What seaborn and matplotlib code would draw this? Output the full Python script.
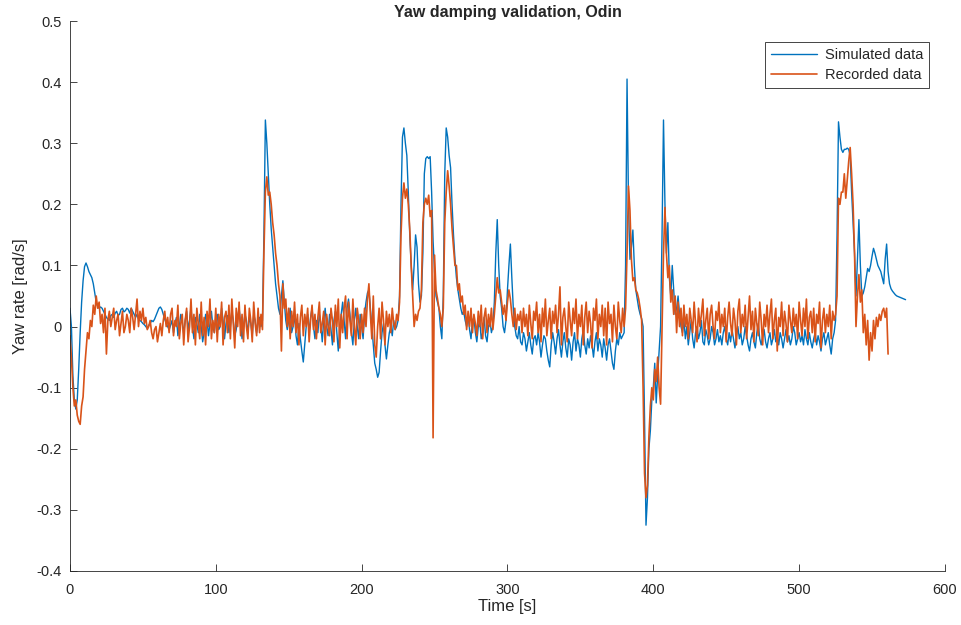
import numpy as np
import pandas as pd
import matplotlib
matplotlib.use("Agg")
import matplotlib.pyplot as plt
import seaborn as sns

# simulated yaw rate, one value per second (t = 0..573 s)
sim_rate = [
    0.03, 0.0, -0.08, -0.12, -0.135, -0.12, -0.07, -0.01, 0.04, 0.075,
    0.098, 0.104, 0.098, 0.09, 0.085, 0.08, 0.07, 0.055, 0.04, 0.033,
    0.03, 0.032, 0.03, 0.025, 0.02, 0.015, 0.012, 0.01, 0.018, 0.02,
    0.015, 0.022, 0.025, 0.018, 0.02, 0.028, 0.03, 0.024, 0.026, 0.03,
    0.028, 0.022, 0.03, 0.025, 0.02, 0.015, 0.02, 0.012, 0.01, 0.008,
    0.005, 0.003, 0.0, -0.003, 0.002, 0.005, 0.01, 0.008, 0.012, 0.018,
    0.024, 0.03, 0.032, 0.028, 0.02, 0.012, 0.005, 0.0, -0.005, 0.002,
    0.01, -0.01, 0.005, 0.015, -0.015, 0.0, 0.02, 0.008, -0.012, 0.01,
    0.025, -0.005, 0.01, 0.03, 0.0, -0.02, 0.015, 0.005, -0.01, 0.02,
    0.0, -0.025, -0.01, 0.02, 0.01, -0.015, 0.005, 0.025, 0.0, -0.01,
    0.015, 0.02, -0.005, 0.0, 0.03, 0.01, -0.02, 0.005, 0.018, -0.01,
    0.0, 0.025, 0.01, -0.015, -0.005, 0.015, 0.03, 0.005, -0.02, 0.0,
    0.02, 0.01, -0.01, 0.015, 0.005, -0.015, 0.02, 0.01, -0.01, 0.005,
    0.015, 0.0, 0.01, 0.15, 0.338, 0.3, 0.25, 0.2, 0.16, 0.13,
    0.1, 0.07, 0.05, 0.03, 0.02, 0.05, 0.075, 0.04, 0.01, -0.005,
    0.01, 0.03, -0.01, 0.0, 0.02, -0.015, -0.03, 0.005, -0.02, -0.04,
    -0.058, -0.03, 0.0, 0.02, -0.01, 0.015, 0.03, 0.0, -0.02, 0.01,
    -0.01, 0.02, 0.005, -0.025, 0.01, 0.03, 0.0, -0.015, 0.02, -0.005,
    -0.03, 0.01, 0.025, -0.01, -0.04, 0.0, 0.02, 0.04, 0.01, -0.02,
    0.03, 0.045, 0.02, -0.01, -0.03, 0.01, 0.03, 0.0, -0.02, 0.02,
    0.0, -0.02, 0.02, 0.04, 0.055, 0.06, 0.03, 0.0, -0.03, -0.06,
    -0.07, -0.083, -0.075, -0.04, -0.01, 0.005, -0.03, -0.053, -0.03, -0.01,
    0.0, -0.015, 0.01, -0.005, 0.0, 0.01, 0.05, 0.2, 0.31, 0.325,
    0.3, 0.28, 0.22, 0.15, 0.1, 0.06, 0.1, 0.15, 0.13, 0.07,
    0.04, 0.05, 0.12, 0.25, 0.275, 0.278, 0.275, 0.278, 0.22, 0.14,
    0.09, 0.05, 0.04, 0.03, 0.0, -0.02, 0.05, 0.25, 0.325, 0.31,
    0.28, 0.26, 0.2, 0.15, 0.11, 0.08, 0.06, 0.045, 0.03, 0.02,
    0.025, 0.01, 0.0, 0.02, -0.005, -0.02, 0.01, 0.015, -0.01, -0.025,
    0.0, 0.01, -0.02, -0.01, 0.015, -0.015, -0.025, 0.0, 0.01, -0.01,
    0.0, 0.04, 0.12, 0.175, 0.1, 0.05, 0.03, 0.0, -0.01, 0.01,
    0.06, 0.1, 0.135, 0.08, 0.03, 0.0, -0.015, -0.02, 0.0, -0.025,
    -0.03, -0.01, -0.02, -0.04, -0.025, -0.01, -0.03, -0.045, -0.02, -0.015,
    -0.03, -0.01, -0.025, -0.05, -0.03, -0.015, -0.02, -0.04, -0.055, -0.066,
    -0.03, -0.01, -0.025, -0.045, -0.02, -0.005, -0.03, -0.05, -0.025, -0.01,
    -0.035, -0.05, -0.02, -0.03, -0.055, -0.025, -0.01, -0.04, -0.02, -0.03,
    -0.05, -0.02, -0.005, -0.03, -0.045, -0.02, -0.035, -0.015, -0.03, -0.05,
    -0.025, -0.01, -0.04, -0.02, -0.03, -0.05, -0.02, -0.035, -0.055, -0.03,
    -0.02, -0.04, -0.06, -0.07, -0.04, -0.02, -0.03, -0.01, -0.02, -0.015,
    -0.01, 0.1, 0.405, 0.2, 0.11, 0.13, 0.158, 0.1, 0.06, 0.045,
    0.03, 0.02, 0.013, 0.0, -0.15, -0.325, -0.28, -0.2, -0.17, -0.12,
    -0.1, -0.06, -0.125, -0.08, -0.04, 0.0, 0.15, 0.338, 0.2, 0.12,
    0.17, 0.08, 0.05, 0.1, 0.06, 0.02, 0.03, 0.05, 0.02, 0.0,
    -0.01, 0.01, -0.02, 0.0, -0.03, -0.01, 0.01, -0.02, -0.035, -0.01,
    0.0, -0.02, -0.01, 0.01, -0.025, -0.03, -0.005, -0.015, -0.03, -0.02,
    0.0, -0.01, -0.03, -0.02, -0.005, -0.025, -0.015, -0.03, -0.01, 0.0,
    -0.02, -0.03, -0.01, -0.025, -0.005, -0.02, -0.035, -0.015, 0.0, -0.02,
    -0.01, -0.03, -0.02, 0.0, -0.015, -0.03, -0.04, -0.02, -0.01, -0.025,
    -0.035, -0.01, 0.005, -0.02, -0.03, -0.015, -0.005, -0.025, -0.035, -0.02,
    -0.01, -0.03, -0.02, -0.005, -0.025, -0.015, -0.03, -0.01, -0.02, -0.035,
    -0.02, -0.005, -0.025, -0.015, -0.03, -0.02, 0.0, -0.01, -0.03, -0.02,
    -0.01, -0.025, -0.015, -0.03, -0.005, -0.02, -0.03, -0.01, -0.025, -0.035,
    -0.02, -0.01, -0.03, -0.015, -0.025, -0.04, -0.02, -0.01, -0.03, -0.02,
    -0.01, -0.03, -0.045, -0.02, -0.01, 0.01, 0.15, 0.335, 0.31, 0.29,
    0.285, 0.29, 0.29, 0.292, 0.29, 0.28, 0.22, 0.17, 0.12, 0.05,
    0.11, 0.175, 0.1, 0.05, 0.055, 0.065, 0.08, 0.095, 0.09, 0.1,
    0.115, 0.128, 0.12, 0.11, 0.1, 0.095, 0.09, 0.08, 0.07, 0.11,
    0.135, 0.09, 0.07, 0.062, 0.058, 0.055, 0.052, 0.05, 0.049, 0.048,
    0.047, 0.046, 0.045, 0.044,
]

# recorded yaw rate, one value per second (t = 0..561 s)
rec_rate = [
    -0.015, -0.05, -0.1, -0.13, -0.12, -0.145, -0.155, -0.16, -0.13, -0.115,
    -0.07, -0.04, -0.01, -0.02, 0.01, 0.0, 0.035, 0.02, 0.05, 0.03,
    0.04, 0.005, 0.02, -0.01, 0.03, -0.045, 0.01, 0.025, 0.0, 0.015,
    0.03, -0.005, 0.01, 0.02, -0.015, 0.005, 0.025, -0.01, 0.0, 0.02,
    0.01, -0.01, 0.03, 0.015, -0.005, 0.02, 0.045, 0.0, 0.025, 0.01,
    0.03, 0.005, 0.015, -0.005, 0.0, 0.01, -0.01, -0.02, -0.005, 0.0,
    -0.025, -0.01, 0.005, -0.015, 0.01, 0.025, 0.0, 0.015, -0.01, 0.02,
    0.03, -0.015, 0.01, 0.0, 0.035, -0.02, 0.005, 0.02, -0.03, 0.01,
    0.03, -0.025, 0.0, 0.045, -0.01, 0.02, -0.03, 0.03, 0.005, -0.02,
    0.04, -0.015, 0.015, -0.03, 0.025, 0.0, 0.045, -0.02, 0.01, -0.01,
    0.03, -0.025, 0.02, 0.0, 0.04, -0.03, 0.015, 0.025, -0.01, 0.035,
    -0.02, 0.045, 0.005, -0.035, 0.03, 0.0, 0.04, -0.015, 0.02, -0.025,
    0.035, 0.0, -0.02, 0.03, 0.01, -0.025, 0.04, 0.005, -0.015, 0.03,
    -0.01, 0.02, -0.005, 0.12, 0.22, 0.245, 0.215, 0.22, 0.2, 0.17,
    0.15, 0.12, 0.1, 0.07, 0.05, -0.04, 0.07, 0.03, 0.045, 0.0,
    0.03, -0.02, 0.025, 0.0, 0.04, -0.01, 0.02, -0.03, 0.015, 0.035,
    -0.015, 0.02, 0.0, 0.03, -0.025, 0.01, 0.035, -0.005, 0.02, -0.02,
    0.015, 0.04, -0.01, 0.005, 0.025, -0.03, 0.02, 0.0, -0.015, 0.03,
    0.01, -0.025, 0.035, 0.0, 0.045, -0.035, 0.02, -0.01, 0.03, 0.05,
    -0.02, 0.04, 0.01, -0.015, 0.045, 0.0, -0.03, 0.03, 0.01, -0.02,
    0.02, -0.01, 0.03, 0.0, 0.045, 0.07, 0.02, -0.02, 0.05, -0.03,
    -0.05, 0.0, 0.03, -0.02, 0.04, 0.01, -0.03, 0.025, 0.0, 0.02,
    -0.01, 0.03, 0.005, -0.005, 0.02, 0.01, 0.04, 0.15, 0.21, 0.235,
    0.21, 0.225, 0.2, 0.16, 0.1, 0.05, 0.0, 0.02, 0.01, 0.025,
    0.03, 0.06, 0.17, 0.2, 0.21, 0.2, 0.215, 0.18, 0.19, -0.182,
    0.117, 0.06, 0.046, 0.03, 0.02, 0.0, 0.03, 0.17, 0.22, 0.255,
    0.23, 0.2, 0.16, 0.13, 0.1, 0.1, 0.06, 0.07, 0.04, 0.05,
    0.02, 0.035, -0.005, 0.025, 0.0, 0.03, -0.01, 0.02, 0.005, -0.015,
    0.025, 0.0, 0.035, -0.02, 0.015, 0.03, -0.01, 0.02, 0.0, 0.03,
    -0.005, 0.02, 0.05, 0.08, 0.055, 0.06, 0.04, 0.02, 0.035, 0.01,
    0.04, 0.06, 0.045, 0.02, 0.0, 0.03, -0.005, 0.02, 0.01, 0.025,
    -0.01, 0.03, 0.0, 0.02, -0.015, 0.035, 0.005, -0.02, 0.025, 0.01,
    0.04, -0.01, 0.02, -0.025, 0.03, 0.0, 0.045, -0.015, 0.01, 0.03,
    -0.02, 0.025, 0.005, 0.035, -0.01, 0.02, 0.065, -0.03, 0.015, 0.03,
    0.0, -0.025, 0.04, 0.01, -0.015, 0.03, 0.005, 0.045, -0.02, 0.02,
    0.0, 0.035, -0.03, 0.015, 0.04, -0.01, 0.025, 0.005, -0.035, 0.03,
    0.01, 0.045, -0.02, 0.02, 0.0, 0.035, -0.015, 0.03, -0.03, 0.04,
    0.005, 0.02, -0.025, 0.035, 0.0, -0.02, 0.04, 0.01, -0.01, 0.03,
    0.0, 0.03, 0.12, 0.23, 0.19, 0.11, 0.075, 0.08, 0.06, 0.055,
    0.045, 0.03, 0.01, -0.1, -0.24, -0.28, -0.26, -0.18, -0.13, -0.1,
    -0.12, -0.07, -0.09, -0.05, -0.1, -0.127, 0.0, 0.12, 0.195, 0.12,
    0.08, 0.1, 0.04, 0.06, 0.02, 0.05, -0.01, 0.04, 0.0, 0.03,
    -0.015, 0.035, 0.0, 0.02, -0.02, 0.03, 0.01, -0.01, 0.04, 0.005,
    -0.025, 0.03, 0.0, 0.02, 0.045, -0.015, 0.01, 0.03, -0.02, 0.02,
    0.035, 0.0, -0.02, 0.025, 0.01, 0.04, -0.01, 0.02, 0.0, 0.03,
    -0.025, 0.015, 0.04, 0.005, -0.015, 0.03, 0.01, -0.03, 0.025, 0.045,
    -0.01, 0.02, 0.0, 0.035, -0.02, 0.015, 0.05, -0.005, 0.025, -0.025,
    0.03, 0.005, -0.015, 0.04, 0.01, -0.03, 0.02, 0.0, 0.035, -0.01,
    0.02, 0.045, -0.02, 0.01, 0.03, -0.04, 0.015, 0.0, 0.04, -0.015,
    0.025, 0.005, -0.025, 0.035, 0.01, -0.01, 0.03, 0.0, 0.02, -0.02,
    0.04, 0.01, -0.015, 0.03, 0.0, 0.045, -0.02, 0.015, 0.025, -0.01,
    0.03, -0.025, 0.02, 0.005, 0.04, -0.035, 0.01, 0.03, -0.01, 0.02,
    0.0, 0.035, -0.02, 0.025, 0.01, 0.02, 0.05, 0.21, 0.2, 0.22,
    0.22, 0.25, 0.21, 0.24, 0.27, 0.293, 0.25, 0.2, 0.12, 0.0,
    0.05, 0.085, 0.04, 0.06, -0.01, 0.02, -0.03, 0.01, -0.055, -0.01,
    -0.04, 0.01, -0.02, 0.015, 0.0, 0.02, 0.01, 0.025, 0.03, 0.015,
    0.03, -0.045,
]

sim_time = np.arange(len(sim_rate))
rec_time = np.arange(len(rec_rate))

sim = pd.DataFrame({"Time": sim_time, "Yaw": sim_rate})
rec = pd.DataFrame({"Time": rec_time, "Yaw": rec_rate})

sns.set_style("ticks")
plt.rcParams["font.family"] = ["Liberation Sans", "DejaVu Sans"]

fig = plt.figure(figsize=(9.61, 6.25), dpi=100)
ax = fig.add_axes([0.0728, 0.0864, 0.9105, 0.88])

sns.lineplot(data=sim, x="Time", y="Yaw", ax=ax, color="#0072BD", lw=1.0,
             estimator=None, sort=False, label="Simulated data")
sns.lineplot(data=rec, x="Time", y="Yaw", ax=ax, color="#D95319", lw=1.2,
             estimator=None, sort=False, label="Recorded data")

ax.set_xlim(0, 600)
ax.set_ylim(-0.4, 0.5)
ax.set_xticks([0, 100, 200, 300, 400, 500, 600])
ax.set_yticks(np.arange(-0.4, 0.51, 0.1))
ax.set_yticklabels(["-0.4", "-0.3", "-0.2", "-0.1", "0", "0.1", "0.2", "0.3", "0.4", "0.5"])
ax.tick_params(direction="in", length=5, width=0.6, labelsize=10.5, colors="#262626")
ax.tick_params(axis="x", pad=9)
ax.tick_params(axis="y", pad=6)
for s in ["top", "right"]:
    ax.spines[s].set_visible(False)
for s in ["left", "bottom"]:
    ax.spines[s].set_linewidth(0.6)
    ax.spines[s].set_color("#262626")

ax.set_xlabel("Time [s]", fontsize=12, color="#262626", labelpad=1)
ax.set_ylabel("Yaw rate [rad/s]", fontsize=12, color="#262626", labelpad=6)
ax.set_title("Yaw damping validation, Odin", fontsize=11.5, fontweight="bold", pad=3)

leg = ax.legend(loc="upper right", bbox_to_anchor=(0.99, 0.975), fontsize=10.5,
                frameon=True, fancybox=False, framealpha=1, edgecolor="#262626",
                handlelength=3.2, borderpad=0.4, labelspacing=0.45, handletextpad=0.5)
leg.get_frame().set_linewidth(0.6)

fig.savefig("out.png", dpi=100)
